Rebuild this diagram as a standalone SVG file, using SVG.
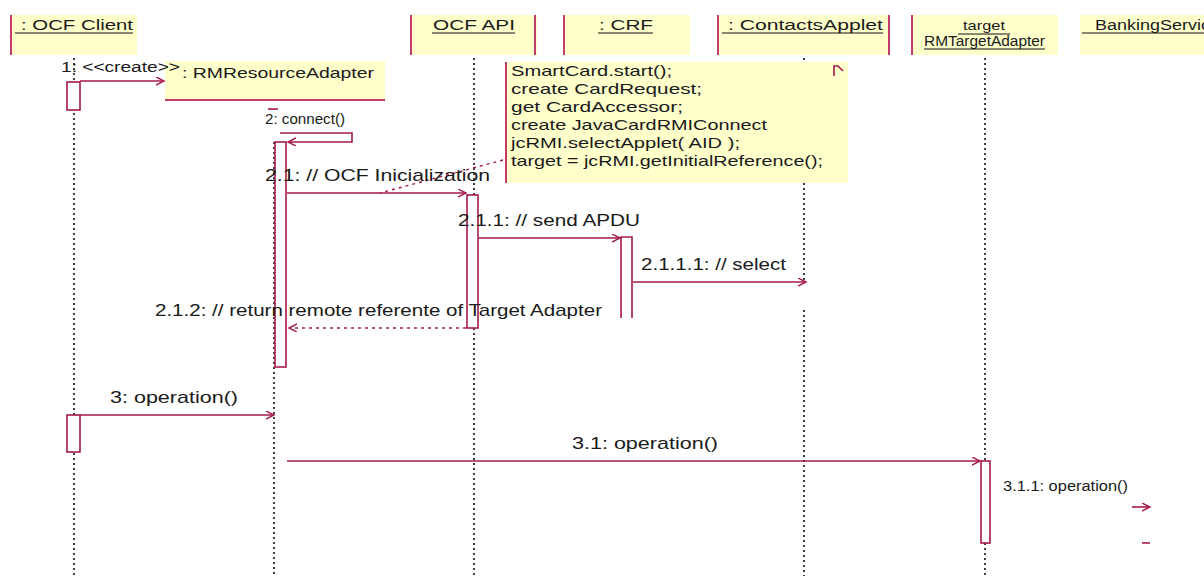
<svg xmlns="http://www.w3.org/2000/svg" width="1204" height="576" viewBox="0 0 1204 576">
  <style>
    .hdr { fill: #ffffcc; }
    .bar { fill: #c43d6a; }
    .t { font-family: "Liberation Sans", Arial, sans-serif; fill: #1a1a1a; }
    .ht { font-size: 14px; }
    .ml { font-size: 17px; }
    .ns { font-size: 15px; }
    .ul { stroke: #111; stroke-width: 1.2; }
    .life { stroke: #111; stroke-width: 1.6; stroke-dasharray: 2 3; fill: none; }
    .act { fill: #fff; stroke: #a51b46; stroke-width: 1.6; }
    .msg { stroke: #a51b46; stroke-width: 1.6; fill: none; }
    .ret { stroke: #a51b46; stroke-width: 1.4; fill: none; stroke-dasharray: 3 4; }
  </style>
  <defs>
    <marker id="open" markerWidth="10" markerHeight="10" refX="8" refY="4" orient="auto" markerUnits="userSpaceOnUse">
      <path d="M0,0 L8,4 L0,8" fill="none" stroke="#a51b46" stroke-width="1.4"/>
    </marker>
  </defs>

  <rect width="1204" height="576" fill="#fff"/>

  <!-- lifelines -->
  <g id="lifelines">
    <line class="life" x1="74" y1="58" x2="74" y2="576"/>
    <line class="life" x1="274" y1="142" x2="274" y2="576"/>
    <line class="life" x1="474" y1="58" x2="474" y2="576"/>
    <line class="life" x1="804" y1="58" x2="804" y2="282"/>
    <line class="life" x1="804" y1="310" x2="804" y2="576"/>
    <line class="life" x1="985" y1="58" x2="985" y2="576"/>
  </g>

  <!-- object headers -->
  <g id="ocf-client">
    <rect class="hdr" x="10" y="15" width="127" height="40"/>
    <rect class="bar" x="10" y="15" width="2" height="40"/>
    <text class="t ht" x="21" y="30" textLength="112" lengthAdjust="spacingAndGlyphs">: OCF Client</text>
    <line class="ul" x1="15" y1="33" x2="133" y2="33"/>
  </g>
  <g id="ocf-api">
    <rect class="hdr" x="410" y="15" width="127" height="40"/>
    <rect class="bar" x="410" y="15" width="2" height="40"/>
    <rect class="bar" x="534" y="15" width="2" height="40"/>
    <text class="t ht" x="433" y="30" textLength="82" lengthAdjust="spacingAndGlyphs">OCF API</text>
    <line class="ul" x1="432" y1="33" x2="515" y2="33"/>
  </g>
  <g id="crf">
    <rect class="hdr" x="563" y="15" width="127" height="40"/>
    <rect class="bar" x="563" y="15" width="2" height="40"/>
    <text class="t ht" x="599" y="30" textLength="54" lengthAdjust="spacingAndGlyphs">: CRF</text>
    <line class="ul" x1="598" y1="33" x2="653" y2="33"/>
  </g>
  <g id="contacts-applet">
    <rect class="hdr" x="717" y="15" width="173" height="40"/>
    <rect class="bar" x="717" y="15" width="2" height="40"/>
    <rect class="bar" x="888" y="15" width="2" height="40"/>
    <text class="t ht" x="728" y="30" textLength="155" lengthAdjust="spacingAndGlyphs">: ContactsApplet</text>
    <line class="ul" x1="722" y1="33" x2="883" y2="33"/>
  </g>
  <g id="target-adapter">
    <rect class="hdr" x="911" y="15" width="147" height="40"/>
    <rect class="bar" x="911" y="15" width="2" height="40"/>
    <text class="t" font-size="12" x="963" y="30" textLength="42" lengthAdjust="spacingAndGlyphs">target</text>
    <line class="ul" x1="958" y1="34" x2="1010" y2="34"/>
    <text class="t ht" x="924" y="46" textLength="121" lengthAdjust="spacingAndGlyphs">RMTargetAdapter</text>
    <line class="ul" x1="924" y1="49" x2="1045" y2="49"/>
  </g>
  <g id="banking-service">
    <rect class="hdr" x="1080" y="15" width="124" height="40"/>
    <text class="t ht" x="1095" y="30" textLength="125" lengthAdjust="spacingAndGlyphs">BankingService</text>
    <line class="ul" x1="1082" y1="33" x2="1204" y2="33"/>
  </g>
  <g id="resource-adapter">
    <rect class="hdr" x="165" y="61" width="220" height="40"/>
    <rect class="bar" x="165" y="99" width="220" height="2"/>
    <text class="t ht" x="182" y="78" textLength="192" lengthAdjust="spacingAndGlyphs">: RMResourceAdapter</text>
  </g>

  <!-- note -->
  <g id="note">
    <rect class="hdr" x="505" y="62" width="343" height="121"/>
    <rect class="bar" x="505" y="62" width="2" height="121"/>
    <path d="M834,76 V66 H838 L843,71" fill="none" stroke="#a51b46" stroke-width="1.6"/>
    <text class="t ns" x="511" y="76" textLength="161" lengthAdjust="spacingAndGlyphs">SmartCard.start();</text>
    <text class="t ns" x="511" y="94" textLength="191" lengthAdjust="spacingAndGlyphs">create CardRequest;</text>
    <text class="t ns" x="511" y="112" textLength="172" lengthAdjust="spacingAndGlyphs">get CardAccessor;</text>
    <text class="t ns" x="511" y="130" textLength="256" lengthAdjust="spacingAndGlyphs">create JavaCardRMIConnect</text>
    <text class="t ns" x="511" y="148" textLength="229" lengthAdjust="spacingAndGlyphs">jcRMI.selectApplet( AID );</text>
    <text class="t ns" x="511" y="166" textLength="312" lengthAdjust="spacingAndGlyphs">target = jcRMI.getInitialReference();</text>
  </g>

  <!-- activations -->
  <g id="activations">
    <rect class="act" x="67" y="82" width="13" height="28"/>
    <rect class="act" x="67" y="415" width="13" height="37"/>
    <rect class="act" x="275" y="142" width="11" height="225"/>
    <rect class="act" x="467" y="195" width="11" height="133"/>
    <path class="msg" d="M621,318 V237 H632 V318"/>
    <rect class="act" x="981" y="461" width="9" height="82"/>
  </g>

  <!-- connectors -->
  <g id="connectors">
    <path class="msg" d="M80,81 H164" marker-end="url(#open)"/>
    <line class="msg" x1="268" y1="109" x2="278" y2="109"/>
    <path class="msg" d="M280,133 H352 V142 H288" marker-end="url(#open)"/>
    <path class="msg" d="M287,193 H466" marker-end="url(#open)"/>
    <line class="ret" x1="503" y1="160" x2="380" y2="193"/>
    <path class="msg" d="M479,238 H620" marker-end="url(#open)"/>
    <path class="msg" d="M633,282 H806" marker-end="url(#open)"/>
    <path class="ret" d="M466,328 H289" marker-end="url(#open)"/>
    <path class="msg" d="M80,415 H274" marker-end="url(#open)"/>
    <path class="msg" d="M287,461 H980" marker-end="url(#open)"/>
    <path class="msg" d="M1132,507 H1150" marker-end="url(#open)"/>
    <line class="msg" x1="1142" y1="543" x2="1150" y2="543"/>
  </g>

  <!-- message labels -->
  <g id="labels">
    <text class="t ht" x="61" y="72" textLength="119" lengthAdjust="spacingAndGlyphs">1: &lt;&lt;create&gt;&gt;</text>
    <text class="t ht" x="265" y="124" textLength="80" lengthAdjust="spacingAndGlyphs">2: connect()</text>
    <text class="t ml" x="265" y="181" textLength="225" lengthAdjust="spacingAndGlyphs">2.1: // OCF Inicialization</text>
    <text class="t ml" x="458" y="226" textLength="182" lengthAdjust="spacingAndGlyphs">2.1.1: // send APDU</text>
    <text class="t ml" x="641" y="270" textLength="145" lengthAdjust="spacingAndGlyphs">2.1.1.1: // select</text>
    <text class="t ml" x="155" y="316" textLength="447" lengthAdjust="spacingAndGlyphs">2.1.2: // return remote referente of Target Adapter</text>
    <text class="t ml" x="110" y="403" textLength="128" lengthAdjust="spacingAndGlyphs">3: operation()</text>
    <text class="t ml" x="572" y="449" textLength="146" lengthAdjust="spacingAndGlyphs">3.1: operation()</text>
    <text class="t ht" x="1003" y="491" textLength="125" lengthAdjust="spacingAndGlyphs">3.1.1: operation()</text>
  </g>
</svg>
